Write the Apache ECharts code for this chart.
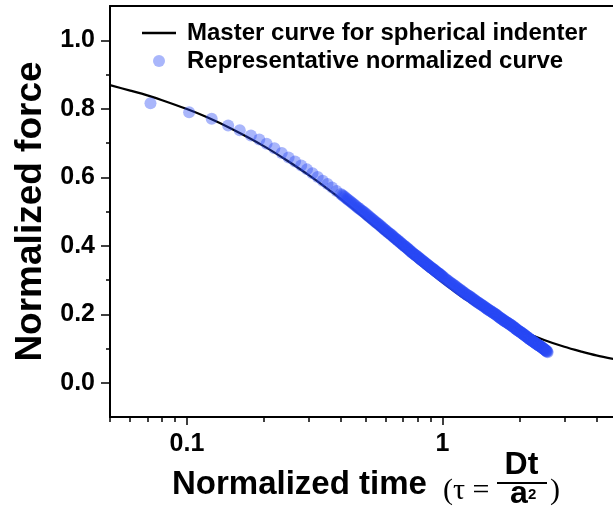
<!DOCTYPE html>
<html>
<head>
<meta charset="utf-8">
<script src="https://cdn.jsdelivr.net/npm/echarts@6/dist/echarts.min.js"></script>
<style>
  html, body { margin: 0; padding: 0; background: #ffffff; overflow: hidden; }
  #chart { width: 613px; height: 510px; }
</style>
</head>
<body>
<div id="chart"></div>
<script>
// Master relaxation curve (spherical indenter): normalized time vs normalized force
const masterTau   = [0.05, 0.06, 0.07, 0.08, 0.1, 0.12, 0.15, 0.2, 0.25, 0.3, 0.35, 0.4, 0.45, 0.5, 0.6, 0.7, 0.8, 0.9, 1.0, 1.2, 1.5, 1.75, 2.0, 2.5, 3.0, 3.5, 4.0, 5.0];
const masterForce = [0.869, 0.853, 0.839, 0.825, 0.799, 0.775, 0.741, 0.691, 0.646, 0.606, 0.570, 0.537, 0.506, 0.478, 0.429, 0.387, 0.351, 0.320, 0.293, 0.249, 0.203, 0.175, 0.154, 0.125, 0.105, 0.091, 0.080, 0.065];

// Representative measured relaxation, normalized
const sampleTau = [
  0.072, 0.102, 0.125, 0.145, 0.161, 0.178, 0.192,
  0.205, 0.220, 0.235, 0.250, 0.265, 0.280, 0.295, 0.310, 0.325, 0.340, 0.355, 0.370, 0.385,
  0.400, 0.405, 0.410, 0.415, 0.420, 0.425, 0.430, 0.435, 0.440, 0.445,
  0.450, 0.455, 0.460, 0.465, 0.470, 0.475, 0.480, 0.485, 0.490, 0.495,
  0.500, 0.505, 0.510, 0.515, 0.520, 0.525, 0.530, 0.535, 0.540, 0.545,
  0.550, 0.555, 0.560, 0.565, 0.570, 0.575, 0.580, 0.585, 0.590, 0.595,
  0.600, 0.605, 0.610, 0.615, 0.620, 0.625, 0.630, 0.635, 0.640, 0.645,
  0.650, 0.655, 0.660, 0.665, 0.670, 0.675, 0.680, 0.685, 0.690, 0.695,
  0.700, 0.705, 0.710, 0.715, 0.720, 0.725, 0.730, 0.735, 0.740, 0.745,
  0.750, 0.755, 0.760, 0.765, 0.770, 0.775, 0.780, 0.785, 0.790, 0.795,
  0.800, 0.805, 0.810, 0.815, 0.820, 0.825, 0.830, 0.835, 0.840, 0.845,
  0.850, 0.855, 0.860, 0.865, 0.870, 0.875, 0.880, 0.885, 0.890, 0.895,
  0.900, 0.905, 0.910, 0.915, 0.920, 0.925, 0.930, 0.935, 0.940, 0.945,
  0.950, 0.955, 0.960, 0.965, 0.970, 0.975, 0.980, 0.985, 0.990, 0.995,
  1.00, 1.01, 1.02, 1.03, 1.04, 1.05, 1.06, 1.07, 1.08, 1.09,
  1.10, 1.11, 1.12, 1.13, 1.14, 1.15, 1.16, 1.17, 1.18, 1.19,
  1.20, 1.21, 1.22, 1.23, 1.24, 1.25, 1.26, 1.27, 1.28, 1.29,
  1.30, 1.31, 1.32, 1.33, 1.34, 1.35, 1.36, 1.37, 1.38, 1.39,
  1.40, 1.41, 1.42, 1.43, 1.44, 1.45, 1.46, 1.47, 1.48, 1.49,
  1.50, 1.51, 1.52, 1.53, 1.54, 1.55, 1.56, 1.57, 1.58, 1.59,
  1.60, 1.61, 1.62, 1.63, 1.64, 1.65, 1.66, 1.67, 1.68, 1.69,
  1.70, 1.71, 1.72, 1.73, 1.74, 1.75, 1.76, 1.77, 1.78, 1.79,
  1.80, 1.81, 1.82, 1.83, 1.84, 1.85, 1.86, 1.87, 1.88, 1.89,
  1.90, 1.91, 1.92, 1.93, 1.94, 1.95, 1.96, 1.97, 1.98, 1.99,
  2.00, 2.01, 2.02, 2.03, 2.04, 2.05, 2.06, 2.07, 2.08, 2.09,
  2.10, 2.11, 2.12, 2.13, 2.14, 2.15, 2.16, 2.17, 2.18, 2.19,
  2.20, 2.21, 2.22, 2.23, 2.24, 2.25, 2.26, 2.27, 2.28, 2.29,
  2.30, 2.31, 2.32, 2.33, 2.34, 2.35, 2.36, 2.37, 2.38, 2.39,
  2.40, 2.41, 2.42, 2.43, 2.44, 2.45, 2.46, 2.47, 2.48, 2.49,
  2.50, 2.51, 2.52, 2.53, 2.54, 2.55, 2.56, 2.57, 2.58
];
const sampleForce = [
  0.816, 0.790, 0.771, 0.751, 0.737, 0.722, 0.710,
  0.698, 0.685, 0.671, 0.658, 0.646, 0.634, 0.623, 0.612, 0.601, 0.590, 0.580, 0.570, 0.560,
  0.551, 0.548, 0.545, 0.542, 0.539, 0.536, 0.533, 0.530, 0.527, 0.524,
  0.521, 0.518, 0.515, 0.512, 0.510, 0.507, 0.504, 0.502, 0.499, 0.497,
  0.494, 0.491, 0.488, 0.486, 0.483, 0.481, 0.478, 0.476, 0.473, 0.471,
  0.468, 0.466, 0.464, 0.461, 0.459, 0.456, 0.454, 0.452, 0.449, 0.447,
  0.445, 0.442, 0.440, 0.438, 0.436, 0.434, 0.432, 0.430, 0.428, 0.425,
  0.423, 0.421, 0.419, 0.417, 0.415, 0.413, 0.411, 0.409, 0.407, 0.405,
  0.403, 0.401, 0.399, 0.397, 0.396, 0.394, 0.392, 0.390, 0.388, 0.386,
  0.384, 0.382, 0.381, 0.379, 0.377, 0.375, 0.374, 0.372, 0.371, 0.369,
  0.368, 0.366, 0.364, 0.362, 0.361, 0.359, 0.358, 0.356, 0.355, 0.353,
  0.352, 0.350, 0.349, 0.347, 0.346, 0.344, 0.343, 0.341, 0.340, 0.338,
  0.337, 0.335, 0.334, 0.333, 0.332, 0.330, 0.329, 0.327, 0.326, 0.324,
  0.323, 0.322, 0.321, 0.319, 0.318, 0.317, 0.316, 0.314, 0.313, 0.311,
  0.310, 0.308, 0.305, 0.303, 0.300, 0.298, 0.296, 0.293, 0.291, 0.289,
  0.287, 0.285, 0.283, 0.280, 0.278, 0.276, 0.274, 0.272, 0.270, 0.268,
  0.266, 0.264, 0.262, 0.260, 0.258, 0.256, 0.255, 0.253, 0.252, 0.250,
  0.248, 0.246, 0.244, 0.242, 0.241, 0.239, 0.237, 0.235, 0.234, 0.232,
  0.231, 0.229, 0.228, 0.226, 0.225, 0.223, 0.222, 0.220, 0.218, 0.217,
  0.215, 0.214, 0.212, 0.211, 0.210, 0.208, 0.207, 0.205, 0.204, 0.203,
  0.202, 0.200, 0.199, 0.197, 0.196, 0.194, 0.193, 0.191, 0.190, 0.188,
  0.187, 0.186, 0.185, 0.183, 0.182, 0.180, 0.179, 0.178, 0.177, 0.176,
  0.175, 0.173, 0.172, 0.171, 0.170, 0.169, 0.168, 0.166, 0.165, 0.164,
  0.163, 0.161, 0.160, 0.158, 0.157, 0.156, 0.155, 0.153, 0.152, 0.151,
  0.150, 0.149, 0.148, 0.147, 0.146, 0.144, 0.143, 0.142, 0.141, 0.140,
  0.139, 0.137, 0.136, 0.135, 0.134, 0.133, 0.132, 0.130, 0.129, 0.128,
  0.127, 0.126, 0.125, 0.124, 0.123, 0.122, 0.121, 0.120, 0.119, 0.118,
  0.117, 0.116, 0.115, 0.114, 0.113, 0.112, 0.111, 0.110, 0.109, 0.108,
  0.108, 0.107, 0.106, 0.105, 0.104, 0.103, 0.102, 0.101, 0.100, 0.099,
  0.098, 0.097, 0.096, 0.095, 0.094, 0.093, 0.092, 0.091, 0.089
];

// Axis ticks
const xMajorTicks = [0.1, 1];
const xMinorTicks = [0.05, 0.06, 0.07, 0.08, 0.09, 0.2, 0.3, 0.4, 0.5, 0.6, 0.7, 0.8, 0.9, 2, 3, 4];
const yMajorTicks = [0.0, 0.2, 0.4, 0.6, 0.8, 1.0];
const yMinorTicks = [0.1, 0.3, 0.5, 0.7, 0.9];

const seriesNames = ['Master curve for spherical indenter', 'Representative normalized curve'];
const xTitle = 'Normalized time';
const yTitle = 'Normalized force';

const FONT = '"Liberation Sans", Arial, Helvetica, sans-serif';
const SERIF = '"Liberation Serif", "Times New Roman", serif';
const INK = '#000000';
const DOT = '#2848f5';

const xRange = { type: 'log', logBase: 10, min: 0.05, max: 4.65 };
const yRange = { type: 'value', min: -0.1, max: 1.1 };

const chart = echarts.init(document.getElementById('chart'), null, { renderer: 'canvas' });

const option = {
  animation: false,
  backgroundColor: '#ffffff',
  grid: { left: 110, right: 0, top: 6, bottom: 93, containLabel: false },
  legend: {
    data: [
      { name: seriesNames[0], icon: 'path://M0,0 L34,0 L34,2.4 L0,2.4 Z', itemStyle: { color: INK } },
      { name: seriesNames[1], icon: 'circle' }
    ],
    orient: 'vertical',
    left: 142,
    top: 21,
    padding: 0,
    itemWidth: 34,
    itemHeight: 12,
    itemGap: 4,
    selectedMode: false,
    textStyle: { fontFamily: FONT, fontSize: 24, fontWeight: 'bold', color: INK, padding: [0, 0, 0, 6] }
  },
  xAxis: [
    Object.assign({}, xRange, {
      position: 'bottom',
      axisLine: { show: true, onZero: false, lineStyle: { color: INK, width: 2 } },
      axisTick: { show: true, customValues: xMajorTicks, length: 8, lineStyle: { color: INK, width: 1.5 } },
      axisLabel: {
        customValues: xMajorTicks, margin: 15, color: INK, fontFamily: FONT, fontSize: 25, fontWeight: 'bold',
        formatter: v => String(+Number(v).toPrecision(3))
      },
      splitLine: { show: false }, minorTick: { show: false }
    }),
    Object.assign({}, xRange, {
      position: 'bottom',
      axisLine: { show: false, onZero: false },
      axisTick: { show: true, customValues: xMinorTicks, length: 5, lineStyle: { color: INK, width: 1.5 } },
      axisLabel: { show: false },
      splitLine: { show: false }
    }),
    Object.assign({}, xRange, {
      position: 'top',
      axisLine: { show: true, onZero: false, lineStyle: { color: INK, width: 2 } },
      axisTick: { show: false },
      axisLabel: { show: false },
      splitLine: { show: false }
    })
  ],
  yAxis: [
    Object.assign({}, yRange, {
      position: 'left',
      name: yTitle,
      nameLocation: 'middle',
      nameGap: 61,
      nameTextStyle: { fontFamily: FONT, fontSize: 37, fontWeight: 'bold', color: INK },
      axisLine: { show: true, onZero: false, lineStyle: { color: INK, width: 2 } },
      axisTick: { show: true, customValues: yMajorTicks, length: 9, lineStyle: { color: INK, width: 1.5 } },
      axisLabel: {
        customValues: yMajorTicks, margin: 15, color: INK, fontFamily: FONT, fontSize: 25, fontWeight: 'bold',
        formatter: v => Number(v).toFixed(1)
      },
      splitLine: { show: false }
    }),
    Object.assign({}, yRange, {
      position: 'left',
      axisLine: { show: false, onZero: false },
      axisTick: { show: true, customValues: yMinorTicks, length: 4, lineStyle: { color: INK, width: 1.5 } },
      axisLabel: { show: false },
      splitLine: { show: false }
    })
  ],
  series: [
    {
      name: seriesNames[0],
      type: 'line',
      xAxisIndex: 0,
      yAxisIndex: 0,
      data: masterTau.map((t, i) => [t, masterForce[i]]),
      symbol: 'none',
      smooth: 0.3,
      clip: true,
      lineStyle: { color: INK, width: 2.2 },
      itemStyle: { color: INK },
      z: 2
    },
    {
      name: seriesNames[1],
      type: 'scatter',
      xAxisIndex: 0,
      yAxisIndex: 0,
      data: sampleTau.map((t, i) => [t, sampleForce[i]]),
      symbol: 'circle',
      symbolSize: 12,
      large: false,
      itemStyle: { color: DOT, opacity: 0.4 },
      z: 3
    }
  ],
  graphic: [
    { type: 'text', x: 172, y: 468, style: { text: xTitle, font: 'bold 33px ' + FONT, fill: INK, verticalAlign: 'top' } },
    { type: 'text', x: 443, y: 476, style: { text: '(\u03c4 =', font: '30px ' + SERIF, fill: INK, verticalAlign: 'top' } },
    { type: 'text', x: 521.5, y: 449, style: { text: 'Dt', font: 'bold 32px ' + FONT, fill: INK, align: 'center', verticalAlign: 'top' } },
    { type: 'line', shape: { x1: 497, y1: 483, x2: 547, y2: 483 }, style: { stroke: INK, lineWidth: 2 } },
    { type: 'text', x: 510, y: 478, style: { text: 'a', font: 'bold 32px ' + FONT, fill: INK, verticalAlign: 'top' } },
    { type: 'text', x: 528, y: 487, style: { text: '2', font: 'bold 15px ' + FONT, fill: INK, verticalAlign: 'top' } },
    { type: 'text', x: 550, y: 476, style: { text: ')', font: '30px ' + SERIF, fill: INK, verticalAlign: 'top' } }
  ]
};

chart.setOption(option);
</script>
</body>
</html>
